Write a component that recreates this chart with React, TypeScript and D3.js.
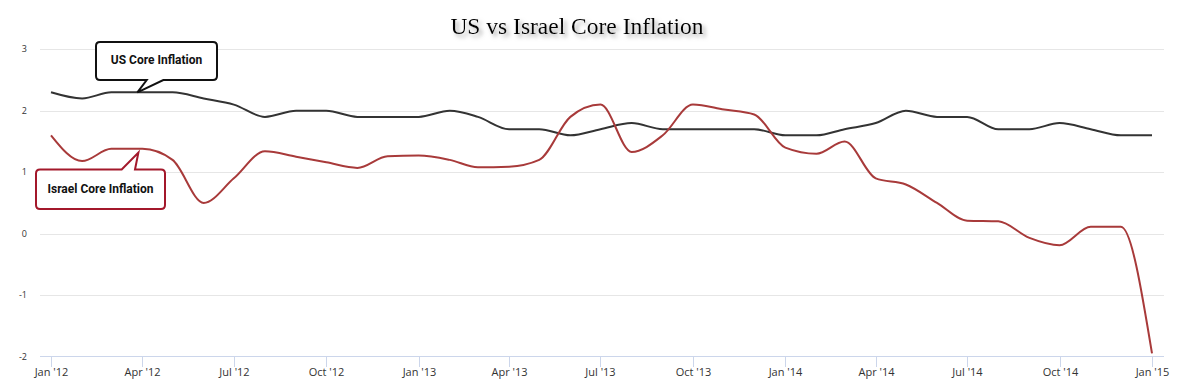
import React from "react";
import * as d3 from "d3";

const months: string[] = d3.range(37).map((i) => {
  const d = new Date(2012, i, 1);
  return d3.timeFormat("%Y-%m-%d")(d);
});

const usCore: number[] = [
  2.3, 2.2, 2.3, 2.3, 2.3, 2.2, 2.1, 1.9, 2.0, 2.0, 1.9, 1.9,
  1.9, 2.0, 1.9, 1.7, 1.7, 1.6, 1.7, 1.8, 1.7, 1.7, 1.7, 1.7,
  1.6, 1.6, 1.7, 1.8, 2.0, 1.9, 1.9, 1.7, 1.7, 1.8, 1.7, 1.6, 1.6,
];

const israelCore: number[] = [
  1.6, 1.18, 1.38, 1.38, 1.2, 0.5, 0.9, 1.34, 1.25, 1.16, 1.07, 1.26,
  1.27, 1.2, 1.08, 1.09, 1.2, 1.9, 2.1, 1.33, 1.6, 2.1, 2.02, 1.94,
  1.4, 1.3, 1.5, 0.9, 0.8, 0.5, 0.21, 0.2, -0.07, -0.19, 0.11, 0.11, -1.95,
];

const yTicks: number[] = [3, 2, 1, 0, -1, -2];
const xTickDates: string[] = [
  "2012-01-01", "2012-04-01", "2012-07-01", "2012-10-01",
  "2013-01-01", "2013-04-01", "2013-07-01", "2013-10-01",
  "2014-01-01", "2014-04-01", "2014-07-01", "2014-10-01", "2015-01-01",
];
const xTickLabels: string[] = [
  "Jan '12", "Apr '12", "Jul '12", "Oct '12",
  "Jan '13", "Apr '13", "Jul '13", "Oct '13",
  "Jan '14", "Apr '14", "Jul '14", "Oct '14", "Jan '15",
];

const titleText = "US vs Israel Core Inflation";
const seriesNames: string[] = ["US Core Inflation", "Israel Core Inflation"];
const annotationDates: string[] = ["2012-03-27", "2012-03-28"];
const annotationValues: number[] = [2.3, 1.32];

const W = 1186;
const H = 381;
const plotLeft = 40;
const plotRight = 1164;

const parse = d3.timeParse("%Y-%m-%d");

export default function App() {
  const x = d3
    .scaleTime()
    .domain([parse("2012-01-01")!, parse("2015-01-01")!])
    .range([51, 1152]);
  const y = d3.scaleLinear().domain([-2, 3]).range([356.5, 49.3]);

  const line = d3
    .line<[Date, number]>()
    .x((d) => x(d[0]))
    .y((d) => y(d[1]))
    .curve(d3.curveMonotoneX);

  const usPts: [Date, number][] = months.map((m, i) => [parse(m)!, usCore[i]]);
  const ilPts: [Date, number][] = months.map((m, i) => [parse(m)!, israelCore[i]]);

  // Callout geometry
  const usTipX = x(parse(annotationDates[0])!);
  const usTipY = y(annotationValues[0]);
  const ilTipX = x(parse(annotationDates[1])!);
  const ilTipY = y(annotationValues[1]);

  const r = 4;
  // US box (pointer down from bottom edge)
  const ub = { x0: 96, y0: 42, x1: 217, y1: 80, pA: 163.3, pB: 146.7 };
  const usPath = `M${ub.x0 + r},${ub.y0} H${ub.x1 - r} Q${ub.x1},${ub.y0} ${ub.x1},${ub.y0 + r} V${ub.y1 - r} Q${ub.x1},${ub.y1} ${ub.x1 - r},${ub.y1} H${ub.pA} L${usTipX},${usTipY} L${ub.pB},${ub.y1} H${ub.x0 + r} Q${ub.x0},${ub.y1} ${ub.x0},${ub.y1 - r} V${ub.y0 + r} Q${ub.x0},${ub.y0} ${ub.x0 + r},${ub.y0} Z`;
  // Israel box (pointer up from top edge)
  const ib = { x0: 36, y0: 169.5, x1: 165, y1: 209, pA: 121.7, pB: 135 };
  const ilPath = `M${ib.x0 + r},${ib.y0} H${ib.pA} L${ilTipX},${ilTipY} L${ib.pB},${ib.y0} H${ib.x1 - r} Q${ib.x1},${ib.y0} ${ib.x1},${ib.y0 + r} V${ib.y1 - r} Q${ib.x1},${ib.y1} ${ib.x1 - r},${ib.y1} H${ib.x0 + r} Q${ib.x0},${ib.y1} ${ib.x0},${ib.y1 - r} V${ib.y0 + r} Q${ib.x0},${ib.y0} ${ib.x0 + r},${ib.y0} Z`;

  return (
    <svg
      width={W}
      height={H}
      style={{ position: "absolute", left: 0, top: 0, background: "#fff" }}
    >
      <defs>
        <filter id="tshadow" x="-10%" y="-30%" width="130%" height="180%">
          <feDropShadow dx="3" dy="3" stdDeviation="2" floodColor="#888" floodOpacity="0.75" />
        </filter>
      </defs>
      <rect width={W} height={H} fill="#fff" />
      <text
        x={577}
        y={34}
        textAnchor="middle"
        fontFamily="'Liberation Serif', 'Times New Roman', serif"
        fontSize={23.5}
        fill="#000"
        filter="url(#tshadow)"
      >
        {titleText}
      </text>

      {/* grid */}
      {yTicks.map((t) =>
        t === -2 ? null : (
          <line
            key={t}
            x1={plotLeft}
            x2={plotRight}
            y1={Math.round(y(t)) + 0.5}
            y2={Math.round(y(t)) + 0.5}
            stroke="#e6e6e6"
            strokeWidth={1}
          />
        )
      )}
      {yTicks.map((t) => (
        <text
          key={"yl" + t}
          x={27}
          y={y(t) + 3}
          textAnchor="end"
          fontFamily="'Open Sans', sans-serif"
          fontSize={9}
          fill="#333"
        >
          {t < 0 ? "-" + Math.abs(t) : String(t)}
        </text>
      ))}

      {/* x axis */}
      <line x1={plotLeft} x2={plotRight} y1={356.5} y2={356.5} stroke="#ccd6eb" strokeWidth={1} />
      {xTickDates.map((d, i) => {
        const xx = Math.round(x(parse(d)!)) + 0.5;
        return (
          <g key={d}>
            <line x1={xx} x2={xx} y1={356.5} y2={367} stroke="#ccd6eb" strokeWidth={1} />
            <text
              x={xx}
              y={376}
              textAnchor="middle"
              fontFamily="'Open Sans', sans-serif"
              fontSize={11}
              fill="#333"
            >
              {xTickLabels[i]}
            </text>
          </g>
        );
      })}

      {/* series */}
      <path d={line(usPts) || ""} fill="none" stroke="#333333" strokeWidth={2} strokeLinejoin="round" />
      <path d={line(ilPts) || ""} fill="none" stroke="#a83a3a" strokeWidth={2} strokeLinejoin="round" />

      {/* callouts */}
      <path d={usPath} fill="#fff" stroke="#111" strokeWidth={2} />
      <text
        x={(ub.x0 + ub.x1) / 2}
        y={64}
        textAnchor="middle"
        fontFamily="Roboto, sans-serif"
        fontWeight={700}
        fontSize={12}
        fill="#111"
      >
        {seriesNames[0]}
      </text>
      <path d={ilPath} fill="#fff" stroke="#a3182b" strokeWidth={2} />
      <text
        x={(ib.x0 + ib.x1) / 2}
        y={193}
        textAnchor="middle"
        fontFamily="Roboto, sans-serif"
        fontWeight={700}
        fontSize={12}
        fill="#111"
      >
        {seriesNames[1]}
      </text>
    </svg>
  );
}
